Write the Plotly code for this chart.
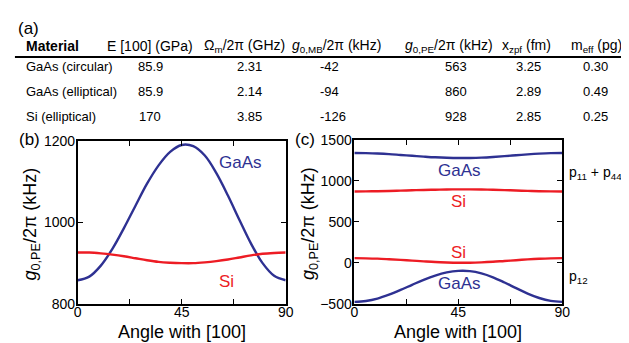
import plotly.graph_objects as go

# ---------------- data ----------------
materials = ["GaAs (circular)", "GaAs (elliptical)", "Si (elliptical)"]
E_100 = ["85.9", "85.9", "170"]
omega_m = ["2.31", "2.14", "3.85"]
g0_mb = ["-42", "-94", "-126"]
g0_pe = ["563", "860", "928"]
x_zpf = ["3.25", "2.89", "2.85"]
m_eff = ["0.30", "0.49", "0.25"]
headers = ["Material", "E [100] (GPa)", "Ω<sub>m</sub>/2π (GHz)",
           "<i>g</i><sub>0,MB</sub>/2π (kHz)", "<i>g</i><sub>0,PE</sub>/2π (kHz)",
           "x<sub>zpf</sub> (fm)", "m<sub>eff</sub> (pg)"]

angle = [0, 5, 10, 15, 20, 25, 30, 35, 40, 45, 50, 55, 60, 65, 70, 75, 80, 85, 90]
# panel (b): total g0,PE
b_gaas = [858, 867, 894, 935, 986, 1041, 1095, 1140, 1173, 1190, 1187, 1164, 1121, 1066, 1006, 948, 900, 869, 858]
b_si = [926, 926, 924, 921, 917, 912, 907, 903, 901, 900, 900, 902, 905, 909, 914, 919, 923, 925, 926]
# panel (c): contributions
c_gaas_p1144 = [1341, 1339, 1334, 1327, 1317, 1307, 1297, 1288, 1282, 1279, 1280, 1284, 1292, 1302, 1313, 1324, 1333, 1339, 1341]
c_si_p1144 = [872, 873, 875, 878, 882, 886, 890, 893, 896, 897, 897, 895, 892, 888, 883, 879, 875, 873, 872]
c_si_p12 = [58, 56, 52, 45, 37, 28, 19, 11, 6, 3, 3, 7, 14, 24, 33, 43, 51, 56, 58]
c_gaas_p12 = [-475, -464, -435, -388, -330, -267, -206, -154, -116, -97, -100, -127, -175, -239, -308, -374, -428, -463, -475]

x_ticks = [0, 22.5, 45, 67.5, 90]
x_ticktext = ["0", "", "45", "", "90"]
b_yticks = [800, 1000, 1200]
c_yticks = [-500, 0, 500, 1000, 1500]

# ---------------- style ----------------
W, H = 629, 343
BLUE = "#2E3192"
RED = "#ED1C24"
FONT = "Liberation Sans"

def px(x):
    return x / W

def py(y):
    return 1 - y / H

fig = go.Figure()

for y, col in [(b_gaas, BLUE), (b_si, RED)]:
    fig.add_trace(go.Scatter(x=angle, y=y, mode="lines", line=dict(color=col, width=2.4, shape="spline"),
                             xaxis="x", yaxis="y", showlegend=False, hoverinfo="skip"))
for y, col in [(c_gaas_p1144, BLUE), (c_si_p1144, RED), (c_si_p12, RED), (c_gaas_p12, BLUE)]:
    fig.add_trace(go.Scatter(x=angle, y=y, mode="lines", line=dict(color=col, width=2.4, shape="spline"),
                             xaxis="x2", yaxis="y2", showlegend=False, hoverinfo="skip"))

axis_common = dict(showgrid=False, zeroline=False, showline=True, linecolor="black", linewidth=1.6,
                   mirror="ticks", ticks="inside", ticklen=5, tickwidth=1.4, tickcolor="black",
                   tickfont=dict(family=FONT, size=14, color="black"))

fig.update_layout(
    width=W, height=H, margin=dict(l=0, r=0, t=0, b=0),
    paper_bgcolor="white", plot_bgcolor="white",
    font=dict(family=FONT, size=13, color="black"),
    xaxis=dict(domain=[px(67), px(279)], range=[0, 90], tickvals=x_ticks, ticktext=x_ticktext,
               anchor="y", ticklabelstandoff=-6, **axis_common),
    yaxis=dict(domain=[py(302), py(131)], range=[800, 1200], tickvals=b_yticks,
               anchor="x", ticklabelstandoff=-2, **axis_common),
    xaxis2=dict(domain=[px(349), px(561)], range=[0, 90], tickvals=x_ticks, ticktext=x_ticktext,
                anchor="y2", ticklabelstandoff=-6, **axis_common),
    yaxis2=dict(domain=[py(302), py(130)], range=[-500, 1500], tickvals=c_yticks,
                anchor="x2", ticklabelstandoff=-2, **axis_common),
)

ann = []
# table title and headers
ann.append(dict(x=px(4), y=py(13), text="(a)", xanchor="left", yanchor="middle", font=dict(size=17)))
header_pos = [(12, "left"), (141, "center"), (237, "center"), (283, "left"),
              (446, "center"), (525, "center"), (596, "center")]
for h, (x, a) in zip(headers, header_pos):
    ann.append(dict(x=px(x), y=py(31), text="<b>" + h + "</b>" if h == "Material" else h,
                    xanchor=a, yanchor="middle", font=dict(size=14)))

value_cols = [materials, E_100, omega_m, g0_mb, g0_pe, x_zpf, m_eff]
value_pos = [(12, "left"), (141, "center"), (242, "center"), (312, "left"),
             (453, "center"), (527, "center"), (595, "center")]
row_y = [53, 79, 105]
for col, (x, a) in zip(value_cols, value_pos):
    for v, yy in zip(col, row_y):
        ann.append(dict(x=px(x), y=py(yy), text=v, xanchor=a, yanchor="middle", font=dict(size=13)))

# panel labels
ann.append(dict(x=px(5), y=py(130), text="(b)", xanchor="left", yanchor="middle", font=dict(size=17)))
ann.append(dict(x=px(286), y=py(130), text="(c)", xanchor="left", yanchor="middle", font=dict(size=17)))

# axis titles
for xc in [px(173), px(455)]:
    ann.append(dict(x=xc, y=py(331), text="Angle with [100]", xanchor="center", yanchor="middle",
                    font=dict(size=18)))
ann.append(dict(x=px(20), y=py(218), text="<i>g</i><sub>0,PE</sub>/2π (kHz)", textangle=-90,
                xanchor="center", yanchor="middle", font=dict(size=18)))
ann.append(dict(x=px(304), y=py(218), text="<i>g</i><sub>0,PE</sub>/2π (kHz)", textangle=-90,
                xanchor="center", yanchor="middle", font=dict(size=18)))

# in-plot labels
ann.append(dict(x=70.5, y=1148, xref="x", yref="y", text="GaAs", font=dict(size=17, color=BLUE)))
ann.append(dict(x=64.5, y=856, xref="x", yref="y", text="Si", font=dict(size=17, color=RED)))
ann.append(dict(x=45.4, y=1131, xref="x2", yref="y2", text="GaAs", font=dict(size=17, color=BLUE)))
ann.append(dict(x=45.2, y=748, xref="x2", yref="y2", text="Si", font=dict(size=17, color=RED)))
ann.append(dict(x=45.2, y=131, xref="x2", yref="y2", text="Si", font=dict(size=17, color=RED)))
ann.append(dict(x=45.4, y=-252, xref="x2", yref="y2", text="GaAs", font=dict(size=17, color=BLUE)))

ann.append(dict(x=px(566), y=py(165), text="p<sub>11</sub> + p<sub>44</sub>", xanchor="left",
                yanchor="middle", font=dict(size=14)))
ann.append(dict(x=px(566), y=py(274), text="p<sub>12</sub>", xanchor="left",
                yanchor="middle", font=dict(size=14)))

for a in ann:
    a.setdefault("xref", "paper")
    a.setdefault("yref", "paper")
    a["showarrow"] = False
fig.update_layout(annotations=ann)

fig.add_shape(type="line", xref="paper", yref="paper", x0=px(3), x1=px(625), y0=py(43), y1=py(43),
              line=dict(color="black", width=2))

fig.write_html("out.html")
